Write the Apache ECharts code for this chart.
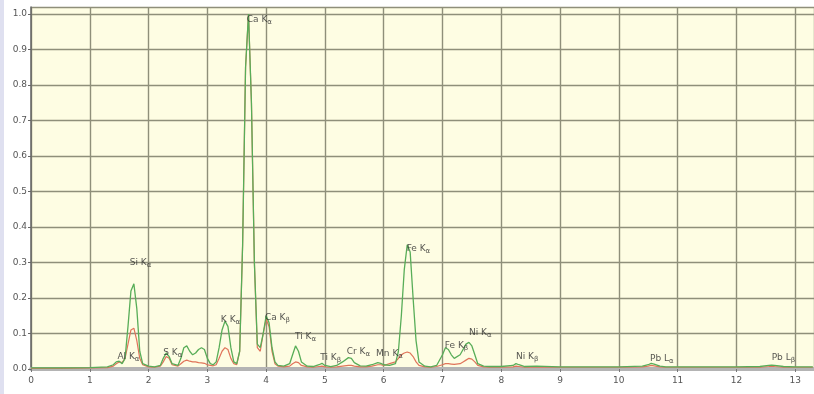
<!DOCTYPE html>
<html>
<head>
<meta charset="utf-8">
<script src="https://cdn.jsdelivr.net/npm/echarts@6/dist/echarts.min.js"></script>
<style>
  html, body { margin: 0; padding: 0; background: #fff; }
  #chart { width: 814px; height: 394px; }
  #strip { position: absolute; left: 0; top: 0; width: 4px; height: 394px; background: #dfe0f0; }
</style>
</head>
<body>
<div id="strip"></div>
<div id="chart"></div>
<script>
// energy in keV, intensities normalised to the Ca K-alpha peak
const energy = [0, 0.5, 1.0, 1.3, 1.4, 1.45, 1.5, 1.55, 1.6, 1.65, 1.7, 1.75, 1.8, 1.85, 1.9, 2.0, 2.1, 2.2, 2.25, 2.3,
  2.35, 2.4, 2.5, 2.55, 2.6, 2.65, 2.7, 2.75, 2.8, 2.85, 2.9, 2.95, 3.0, 3.05, 3.1, 3.15, 3.2, 3.25, 3.3, 3.35,
  3.4, 3.45, 3.5, 3.55, 3.6, 3.65, 3.7, 3.75, 3.8, 3.85, 3.9, 3.95, 4.0, 4.05, 4.1, 4.15, 4.2, 4.3, 4.4, 4.45,
  4.5, 4.55, 4.6, 4.7, 4.8, 4.9, 4.95, 5.0, 5.1, 5.2, 5.3, 5.4, 5.45, 5.5, 5.6, 5.7, 5.8, 5.9, 5.95, 6.0,
  6.1, 6.2, 6.25, 6.3, 6.35, 6.4, 6.45, 6.5, 6.55, 6.6, 6.7, 6.8, 6.9, 7.0, 7.05, 7.1, 7.15, 7.2, 7.3, 7.35,
  7.4, 7.45, 7.5, 7.55, 7.6, 7.7, 7.8, 8.0, 8.2, 8.25, 8.3, 8.4, 8.6, 9.0, 9.5, 10.0, 10.4, 10.5, 10.55, 10.6,
  10.7, 10.8, 11.0, 11.5, 12.0, 12.4, 12.55, 12.6, 12.65, 12.8, 13.0, 13.3];

const greenSpectrum = [0.003, 0.003, 0.004, 0.006, 0.012, 0.02, 0.022, 0.015, 0.03, 0.12, 0.22, 0.24, 0.17, 0.05, 0.015, 0.008, 0.006, 0.01, 0.03, 0.045,
  0.035, 0.015, 0.01, 0.03, 0.06, 0.065, 0.05, 0.04, 0.045, 0.055, 0.06, 0.055, 0.03, 0.015, 0.012, 0.02, 0.06, 0.11, 0.135, 0.12,
  0.06, 0.02, 0.015, 0.05, 0.35, 0.85, 1.0, 0.75, 0.3, 0.07, 0.06, 0.1, 0.15, 0.13, 0.06, 0.02, 0.01, 0.008, 0.015, 0.04,
  0.065, 0.05, 0.02, 0.008, 0.007, 0.012, 0.016, 0.01, 0.007, 0.01, 0.02, 0.032, 0.03, 0.018, 0.009, 0.008, 0.012, 0.018, 0.016, 0.012,
  0.01, 0.015, 0.05, 0.15, 0.28, 0.35, 0.33, 0.2, 0.08, 0.02, 0.008, 0.006, 0.01, 0.04, 0.06, 0.055, 0.04, 0.03, 0.04, 0.055,
  0.07, 0.075, 0.065, 0.04, 0.015, 0.008, 0.007, 0.007, 0.01, 0.015, 0.012, 0.007, 0.008, 0.006, 0.006, 0.006, 0.008, 0.012, 0.016, 0.014,
  0.008, 0.006, 0.006, 0.006, 0.006, 0.007, 0.01, 0.011, 0.01, 0.007, 0.006, 0.006];

const redSpectrum = [0.002, 0.002, 0.003, 0.004, 0.008, 0.015, 0.02, 0.018, 0.03, 0.07, 0.11, 0.115, 0.08, 0.03, 0.012, 0.006, 0.005, 0.008, 0.02, 0.035,
  0.03, 0.012, 0.008, 0.015, 0.022, 0.025, 0.022, 0.02, 0.02, 0.018, 0.017, 0.016, 0.012, 0.01, 0.009, 0.012, 0.03, 0.05, 0.06, 0.055,
  0.03, 0.015, 0.012, 0.05, 0.35, 0.85, 1.0, 0.75, 0.3, 0.06, 0.05, 0.1, 0.14, 0.12, 0.05, 0.015, 0.008, 0.006, 0.008, 0.015,
  0.02, 0.018, 0.01, 0.006, 0.005, 0.007, 0.008, 0.006, 0.005, 0.006, 0.008, 0.01, 0.01, 0.008, 0.006, 0.006, 0.008, 0.012, 0.012, 0.01,
  0.015, 0.02, 0.03, 0.04, 0.045, 0.048, 0.045, 0.035, 0.02, 0.01, 0.006, 0.005, 0.007, 0.012, 0.015, 0.015, 0.014, 0.013, 0.015, 0.02,
  0.025, 0.03, 0.028, 0.02, 0.01, 0.006, 0.005, 0.005, 0.006, 0.008, 0.007, 0.005, 0.005, 0.005, 0.005, 0.005, 0.006, 0.008, 0.01, 0.009,
  0.006, 0.005, 0.005, 0.005, 0.005, 0.005, 0.007, 0.008, 0.007, 0.005, 0.005, 0.005];

// peak labels: element, line, subscript, where the label sits
const peakElement = ['Al', 'Si', 'S', 'K', 'Ca', 'Ca', 'Ti', 'Ti', 'Cr', 'Mn', 'Fe', 'Fe', 'Ni', 'Ni', 'Pb', 'Pb'];
const peakLine = ['K', 'K', 'K', 'K', 'K', 'K', 'K', 'K', 'K', 'K', 'K', 'K', 'K', 'K', 'L', 'L'];
const peakSub = ['α', 'α', 'α', 'α', 'α', 'β', 'α', 'β', 'α', 'α', 'α', 'β', 'α', 'β', 'α', 'β'];
const labelEnergy = [1.47, 1.68, 2.25, 3.23, 3.67, 3.98, 4.49, 4.92, 5.37, 5.87, 6.39, 7.04, 7.45, 8.25, 10.53, 12.6];
const labelHeight = [0.035, 0.30, 0.047, 0.14, 0.985, 0.145, 0.09, 0.033, 0.048, 0.043, 0.34, 0.065, 0.103, 0.036, 0.03, 0.032];

const xTicks = [0, 1, 2, 3, 4, 5, 6, 7, 8, 9, 10, 11, 12, 13];

const chart = echarts.init(document.getElementById('chart'));

const gridColor = '#8f8f7a';

chart.setOption({
  animation: false,
  backgroundColor: 'transparent',
  grid: { left: 31, right: 0, top: 7, bottom: 25, backgroundColor: '#fefde3', show: true, borderWidth: 0 },
  xAxis: {
    type: 'value',
    min: 0,
    max: 13.32,
    interval: 1,
    axisLine: { show: true, onZero: false, lineStyle: { color: '#b4b4b4', width: 4 } },
    axisTick: { show: true, length: 3, lineStyle: { color: '#777' } },
    axisLabel: {
      color: '#555', fontSize: 9, fontFamily: 'DejaVu Sans', margin: 7,
      showMaxLabel: false,
      formatter: v => xTicks.includes(v) ? String(v) : ''
    },
    splitLine: { show: true, lineStyle: { color: gridColor, width: 1.4 } }
  },
  yAxis: {
    type: 'value',
    min: 0,
    max: 1.02,
    interval: 0.1,
    axisLine: { show: true, lineStyle: { color: '#666', width: 1.5 } },
    axisTick: { show: true, length: 3, lineStyle: { color: '#666' } },
    axisLabel: {
      color: '#555', fontSize: 9, fontFamily: 'DejaVu Sans', margin: 4,
      showMaxLabel: false,
      formatter: v => v.toFixed(1)
    },
    splitLine: { show: true, lineStyle: { color: gridColor, width: 1.4 } }
  },
  series: [
    {
      name: 'red',
      type: 'line',
      data: energy.map((e, i) => [e, redSpectrum[i]]),
      symbol: 'none',
      lineStyle: { color: '#e0745a', width: 1.2 },
      z: 2
    },
    {
      name: 'green',
      type: 'line',
      data: energy.map((e, i) => [e, greenSpectrum[i]]),
      symbol: 'none',
      lineStyle: { color: '#58ad58', width: 1.3 },
      z: 3
    },
    {
      name: 'labels',
      type: 'scatter',
      symbolSize: 0,
      data: labelEnergy.map((e, i) => [e, labelHeight[i]]),
      z: 4,
      label: {
        show: true,
        position: 'right',
        distance: 0,
        formatter: p => {
          const i = p.dataIndex;
          return peakElement[i] + ' ' + peakLine[i] + '{s|' + peakSub[i] + '}';
        },
        color: '#2a2a2a',
        fontSize: 9,
        fontFamily: 'DejaVu Sans',
        rich: {
          s: { fontSize: 7, color: '#2a2a2a', padding: [5, 0, 0, 0], fontFamily: 'DejaVu Sans' }
        }
      }
    }
  ]
});
</script>
</body>
</html>
